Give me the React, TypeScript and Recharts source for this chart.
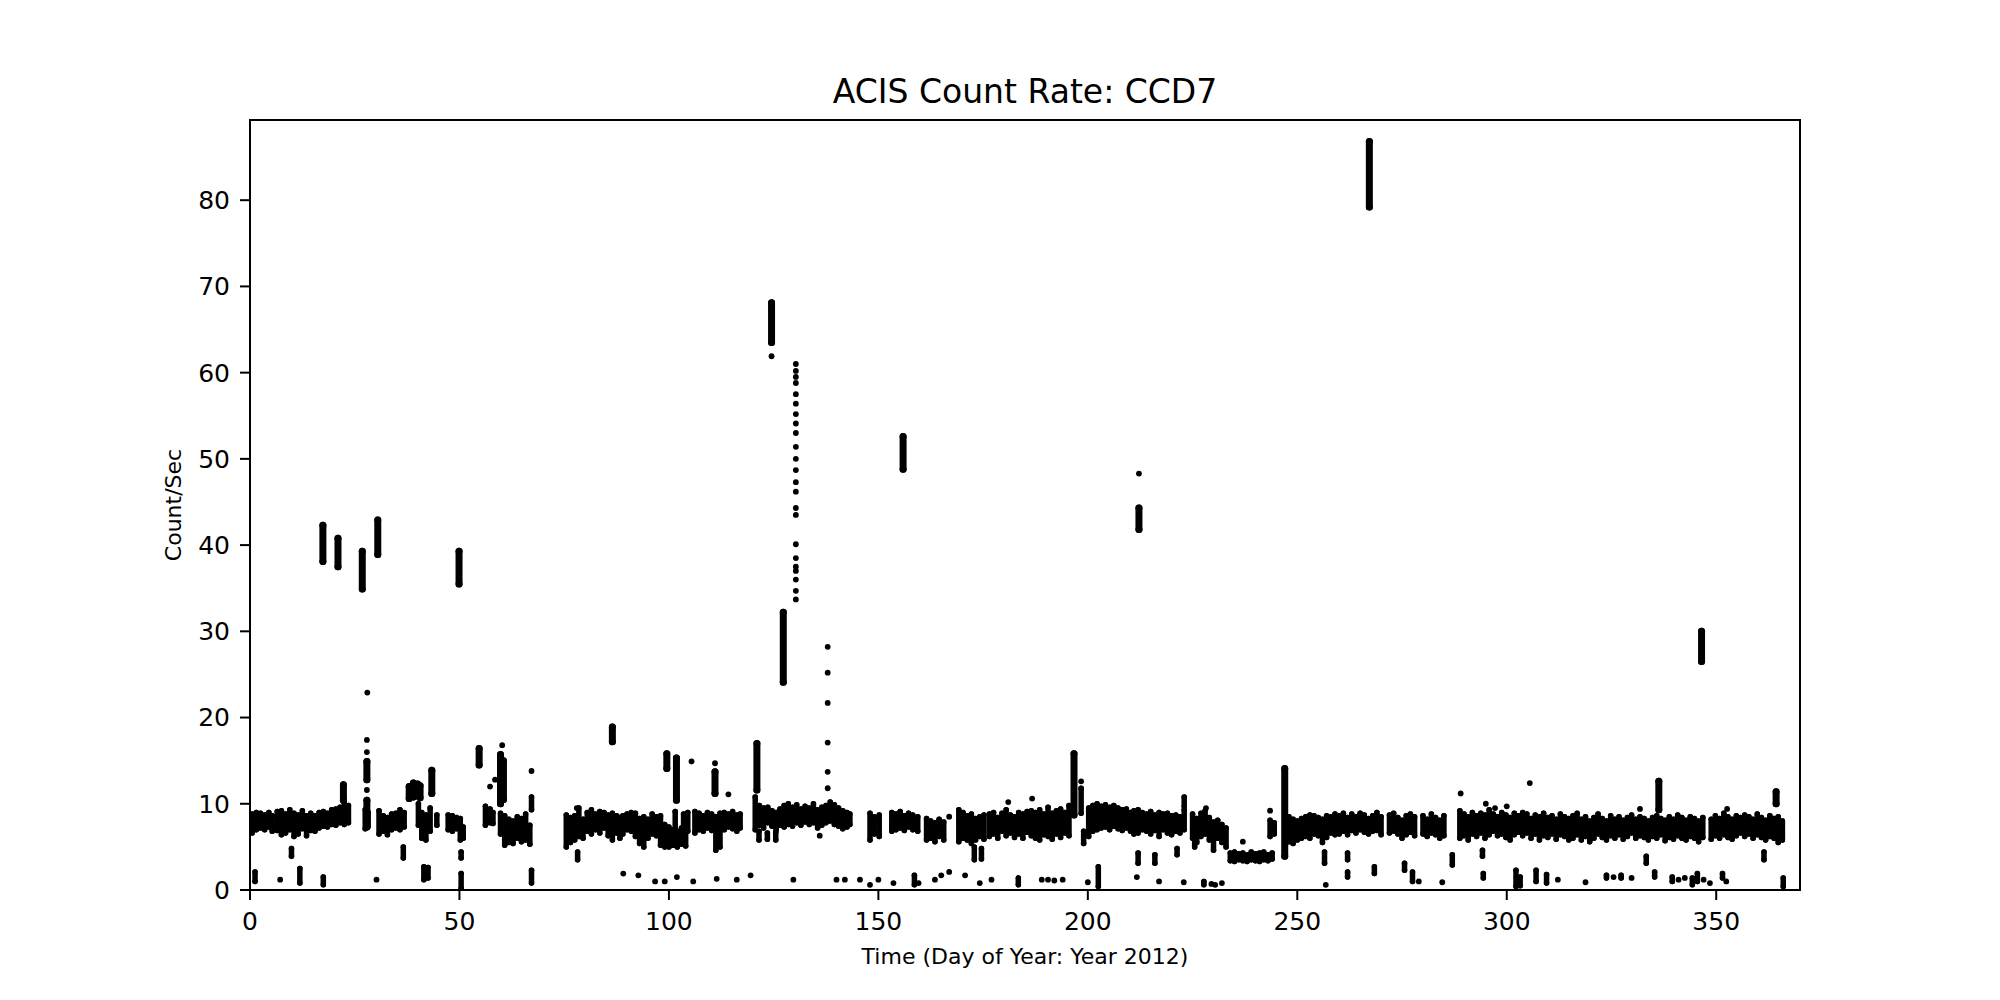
import React from 'react';
import {
  ComposedChart,
  Scatter,
  ErrorBar,
  XAxis,
  YAxis,
  ReferenceArea,
} from 'recharts';

// day of year, low, high (dense runs of points)
const bandRuns: [number, number, number][] = [
  [0.5, 6.6, 8.8], [1.5, 7.0, 9.0], [2.5, 7.2, 8.9], [3.5, 7.0, 8.7], [4.5, 7.3, 9.0], [5.3, 6.8, 8.6],
  [6.5, 6.9, 9.1], [7.5, 6.4, 9.2], [8.5, 6.6, 8.8], [9.5, 7.0, 9.3], [10.5, 6.2, 8.9], [11.5, 6.5, 8.7],
  [12.5, 7.1, 9.2], [13.5, 6.3, 8.6], [14.5, 6.9, 8.9], [15.5, 6.8, 8.6], [16.5, 7.2, 9.0], [17.5, 7.4, 9.1],
  [18.5, 7.3, 8.9], [19.5, 7.6, 9.3], [20.5, 7.5, 9.4], [21.5, 7.8, 9.6], [22.5, 7.6, 10.2], [23.5, 7.8, 9.8],
  [27.5, 7.1, 9.3], [28.2, 7.4, 9.0],
  [30.8, 6.5, 9.2], [31.8, 6.8, 8.6], [32.8, 6.4, 8.4], [33.8, 7.0, 8.8], [34.8, 7.2, 8.9], [35.8, 7.0, 9.3], [36.8, 7.3, 9.0],
  [40.2, 7.5, 10.0], [41.0, 6.0, 9.0], [42.0, 5.8, 8.7], [43.0, 6.8, 9.5], [44.6, 7.5, 8.7],
  [47.3, 7.0, 8.7], [48.3, 6.8, 8.6], [49.3, 7.1, 8.4], [50.2, 5.8, 8.3], [50.9, 6.0, 7.3],
  [56.2, 7.5, 9.7], [57.3, 7.8, 9.4], [58.0, 7.7, 9.0],
  [59.8, 6.5, 8.9], [60.8, 5.2, 8.6], [61.8, 5.5, 8.2], [62.8, 5.4, 8.0], [63.8, 6.0, 8.5], [64.8, 5.6, 8.3],
  [65.8, 5.8, 8.8], [66.8, 5.3, 7.5], [67.2, 9.3, 10.8],
  [75.5, 5.0, 8.7], [76.5, 5.5, 8.4], [77.5, 5.8, 8.6], [78.5, 6.2, 9.5], [79.5, 6.0, 8.2],
  [80.5, 6.8, 9.0], [81.5, 6.5, 9.3], [82.5, 7.0, 8.8], [83.5, 6.6, 9.1], [84.5, 7.2, 9.0], [85.5, 6.3, 8.7],
  [86.5, 5.8, 8.9], [87.5, 6.6, 8.6], [88.3, 6.0, 8.4],
  [89.0, 6.5, 8.6], [90.0, 7.0, 8.8], [91.0, 6.8, 9.0], [92.0, 6.2, 8.9], [93.0, 5.4, 8.3], [94.0, 5.0, 8.5],
  [95.0, 6.0, 8.2], [96.0, 6.5, 8.8], [97.0, 6.3, 8.5], [98.0, 5.2, 8.6], [99.0, 5.0, 7.6],
  [100.0, 5.0, 7.3], [101.0, 5.2, 7.0], [102.0, 5.0, 6.8], [103.0, 5.3, 7.2], [104.0, 5.1, 7.4],
  [101.5, 7.0, 9.1], [103.5, 7.2, 8.8], [104.5, 6.8, 9.0],
  [106.2, 6.6, 9.1], [107.2, 7.0, 8.9], [108.2, 6.8, 8.6], [109.2, 7.2, 9.0], [110.2, 6.9, 8.8], [111.2, 4.6, 8.5],
  [112.2, 5.0, 8.9], [113.2, 7.0, 9.0], [114.2, 7.3, 8.8], [115.2, 7.1, 9.1], [116.2, 6.8, 8.7], [117.0, 7.2, 8.8],
  [120.6, 7.0, 10.8], [121.6, 7.5, 9.8], [122.6, 7.2, 9.5], [123.6, 7.8, 9.6], [124.6, 7.4, 9.2], [125.6, 7.0, 9.0],
  [126.5, 7.5, 9.4], [121.5, 5.8, 6.8], [123.5, 5.9, 6.6], [125.5, 5.8, 6.7],
  [127.5, 7.3, 9.8], [128.5, 7.6, 10.0], [129.5, 7.4, 9.6], [130.5, 7.8, 9.9], [131.5, 7.5, 9.4], [132.5, 7.9, 9.7],
  [133.5, 7.6, 9.5], [134.5, 7.8, 10.0], [135.5, 7.2, 9.3], [136.5, 7.5, 9.6], [137.5, 7.8, 9.8], [138.5, 8.0, 10.2],
  [139.5, 7.6, 9.9], [140.5, 7.4, 9.5], [141.5, 7.1, 9.2], [142.5, 7.3, 9.0], [143.2, 7.6, 8.8],
  [148.0, 5.8, 8.9], [149.0, 6.5, 8.5], [150.2, 6.2, 8.7],
  [153.2, 6.8, 9.0], [154.2, 7.0, 8.8], [155.2, 7.2, 9.1], [156.2, 6.9, 8.6], [157.2, 7.3, 8.9], [158.2, 7.0, 8.7], [159.4, 6.8, 8.5],
  [161.5, 5.8, 8.3], [162.5, 6.0, 8.0], [163.5, 5.6, 7.8], [164.5, 6.2, 8.2], [165.6, 5.8, 7.9],
  [169.2, 5.6, 9.3], [170.2, 6.0, 9.0], [171.2, 5.8, 8.6], [172.2, 5.4, 8.8], [173.2, 5.8, 8.3], [174.2, 6.2, 8.5], [175.2, 5.9, 8.7],
  [176.5, 6.2, 8.8], [177.5, 6.5, 9.0], [178.5, 6.0, 8.4], [179.5, 6.8, 8.9], [180.5, 6.3, 9.3], [181.5, 6.6, 8.7],
  [182.5, 6.1, 8.5], [183.5, 6.5, 9.0], [184.5, 6.0, 8.8], [185.5, 6.7, 9.1], [186.5, 6.3, 9.2],
  [187.5, 6.0, 9.0], [188.5, 5.8, 9.3], [189.5, 6.4, 8.8], [190.5, 6.2, 9.6], [191.5, 5.9, 8.9], [192.5, 6.5, 9.2],
  [193.5, 6.1, 9.4], [194.5, 6.6, 9.0], [195.5, 6.3, 9.8], [198.4, 8.9, 11.8], [199.0, 5.4, 6.8],
  [200.2, 6.2, 9.5], [201.2, 6.8, 9.8], [202.2, 7.0, 10.0], [203.2, 7.2, 9.7], [204.2, 7.3, 9.9], [205.2, 7.0, 9.6],
  [206.2, 7.4, 9.8], [207.2, 7.1, 9.5], [208.2, 6.9, 9.3], [209.2, 7.2, 9.4], [210.2, 6.8, 9.0], [211.0, 6.5, 9.2],
  [212.0, 6.6, 9.3], [213.0, 7.0, 9.0], [214.0, 6.8, 8.8], [215.0, 6.5, 9.1], [216.0, 6.9, 8.7], [217.0, 6.2, 9.0],
  [218.0, 7.0, 8.8], [219.0, 6.6, 8.9], [220.0, 6.4, 8.6], [221.0, 6.8, 8.7], [222.0, 6.6, 8.5], [223.0, 7.0, 9.3],
  [223.0, 9.7, 10.8], [225.5, 5.0, 7.5],
  [225.0, 6.0, 8.8], [226.0, 5.5, 8.3], [227.0, 6.2, 8.9], [228.0, 6.5, 9.2], [229.0, 5.8, 8.4], [230.0, 4.6, 7.9],
  [231.0, 6.0, 8.1], [232.0, 5.5, 7.6], [233.0, 5.0, 7.2],
  [234.0, 3.4, 4.3], [235.0, 3.3, 4.4], [236.0, 3.5, 4.2], [237.0, 3.4, 4.3], [238.0, 3.3, 4.1], [239.0, 3.5, 4.4],
  [240.0, 3.4, 4.2], [241.0, 3.3, 4.3], [242.0, 3.5, 4.4], [243.0, 3.4, 4.1], [244.0, 3.6, 4.3],
  [243.5, 6.2, 8.1], [244.5, 6.5, 7.8],
  [248.0, 5.6, 8.5], [249.0, 5.4, 8.2], [250.0, 5.8, 8.0], [251.0, 6.0, 8.3], [252.0, 6.2, 8.5], [253.0, 6.0, 8.7],
  [254.0, 6.5, 8.6], [255.0, 6.3, 8.4], [256.0, 5.5, 8.2], [257.0, 6.1, 8.6], [258.0, 6.6, 8.5], [259.0, 6.4, 8.8],
  [260, 6.5, 8.6], [261, 6.8, 8.9], [262, 6.4, 8.4], [263, 6.9, 8.8], [264, 6.6, 8.5], [265, 7.0, 8.9],
  [266, 6.7, 8.7], [267, 6.5, 8.3], [268, 6.8, 8.6], [269, 6.9, 9.0], [270, 6.4, 8.5], [272, 6.6, 8.7],
  [273, 6.8, 8.9], [274, 6.5, 8.4], [275, 6.0, 8.1], [276, 6.4, 8.6], [277, 6.7, 8.8], [278, 6.3, 8.5],
  [280, 6.5, 8.6], [281, 6.2, 8.2], [282, 6.6, 8.8], [283, 6.4, 8.4], [284, 6.0, 8.1], [285, 6.3, 8.6],
  [288.8, 6.0, 9.2], [289.8, 6.3, 8.8], [290.8, 5.8, 8.5], [291.8, 6.5, 9.0], [292.8, 6.2, 8.6], [293.8, 6.6, 8.9],
  [294.8, 6.0, 8.7], [295.8, 6.4, 9.3], [296.8, 6.8, 8.8], [297.8, 6.3, 8.5], [298.8, 6.5, 9.0], [299.8, 6.1, 8.7],
  [300.8, 5.8, 8.4], [301.8, 6.4, 8.9], [302.8, 6.7, 8.6], [303.8, 6.3, 9.0], [304.8, 6.6, 8.8], [305.8, 6.0, 8.3],
  [306.8, 6.5, 8.7], [307.8, 5.8, 8.5], [308.8, 6.3, 8.9], [309.8, 6.1, 8.4], [310.8, 6.5, 8.6], [311.8, 5.9, 8.2],
  [312.8, 6.4, 8.8], [313.8, 6.2, 8.5], [314.8, 5.8, 8.3],
  [315.8, 6.0, 8.6], [316.8, 6.4, 8.9], [317.8, 5.8, 8.2], [318.8, 6.2, 8.5], [319.8, 5.6, 8.0], [320.8, 6.0, 8.4],
  [321.8, 6.5, 8.8], [322.8, 6.1, 8.3], [323.8, 5.8, 8.0], [324.8, 6.3, 8.6], [325.8, 6.0, 8.2], [326.8, 6.4, 8.5],
  [327.8, 5.9, 8.1], [328.8, 6.2, 8.4], [329.8, 6.6, 8.7], [330.8, 6.0, 8.2], [331.8, 6.3, 8.5], [332.8, 6.1, 8.3],
  [333.8, 5.8, 8.0], [334.8, 6.2, 8.4], [335.8, 6.0, 8.6], [336.8, 6.4, 8.3], [337.8, 5.7, 8.1], [338.8, 6.1, 8.5],
  [339.8, 5.9, 8.2], [340.8, 6.3, 8.7], [341.8, 6.0, 8.4], [342.8, 5.8, 8.1], [343.8, 6.2, 8.5], [344.8, 6.0, 8.3],
  [345.8, 5.6, 8.0], [346.8, 6.1, 8.4], [348.8, 5.9, 8.2], [349.8, 6.3, 8.6], [350.8, 6.0, 8.3], [351.8, 6.4, 8.9],
  [352.8, 6.1, 8.5], [353.8, 5.9, 8.2], [354.8, 6.3, 8.6], [355.8, 6.6, 8.4], [356.8, 6.2, 8.7], [357.8, 6.5, 8.5],
  [358.8, 6.0, 8.2], [359.8, 6.4, 8.8], [360.8, 6.1, 8.4], [361.8, 5.8, 8.1], [362.8, 6.2, 8.6], [363.8, 6.0, 8.3],
  [364.8, 5.5, 8.5], [365.8, 5.8, 8.0],
];

// flares and bursts above the quiet level
const flareRuns: [number, number, number][] = [
  [17.4, 38.1, 42.3], [21.0, 37.5, 40.8], [26.8, 34.9, 39.3], [30.5, 38.9, 42.9], [49.9, 35.5, 39.3],
  [22.3, 10.4, 12.2], [27.9, 12.8, 14.9], [27.9, 7.3, 10.4],
  [38.0, 10.6, 12.0], [39.0, 10.8, 12.4], [40.0, 10.9, 12.3], [40.6, 10.7, 12.1], [43.4, 11.2, 13.9],
  [54.7, 14.5, 16.4], [59.8, 10.0, 15.7], [60.5, 10.5, 15.0], [86.5, 17.2, 18.9],
  [99.5, 14.1, 15.8], [101.8, 10.4, 15.3], [111.0, 11.2, 13.7], [121.0, 11.6, 17.0],
  [124.5, 63.5, 68.1], [127.3, 24.1, 32.2], [155.9, 48.8, 52.6],
  [196.7, 8.7, 15.8], [212.2, 41.8, 44.3], [247.0, 3.9, 14.1], [267.2, 79.2, 86.8],
  [336.3, 9.3, 12.6], [346.5, 26.5, 30.0], [364.3, 10.0, 11.4],
];

// low-rate runs near zero
const lowRuns: [number, number, number][] = [
  [1.2, 1.0, 2.1], [9.9, 3.9, 4.8], [11.9, 0.8, 2.5], [17.5, 0.6, 1.5], [36.6, 3.7, 5.0],
  [41.5, 1.2, 2.7], [42.5, 1.4, 2.6], [50.4, 3.7, 4.4], [50.4, 0.2, 1.9], [67.2, 0.8, 2.3], [78.2, 3.5, 4.4],
  [158.6, 0.6, 1.7], [172.9, 3.5, 5.0], [174.6, 3.6, 4.8], [183.4, 0.6, 1.4], [202.5, 0.4, 2.7],
  [212.0, 3.1, 4.3], [216.0, 3.1, 4.1], [221.3, 4.1, 4.8], [227.7, 0.6, 1.0],
  [256.5, 3.1, 4.4], [262.0, 3.5, 4.3], [262.0, 1.5, 2.1], [268.4, 1.9, 2.7], [275.6, 2.3, 3.1],
  [277.5, 1.0, 2.1], [287.0, 2.9, 4.1], [294.4, 1.4, 1.9], [294.2, 3.9, 4.6], [302.2, 0.4, 2.3],
  [303.2, 0.5, 1.5], [307.0, 1.0, 2.3], [309.5, 0.8, 1.8], [323.8, 1.4, 1.7], [327.3, 1.4, 1.7],
  [333.3, 3.1, 3.9], [335.3, 1.5, 2.1], [339.5, 1.0, 1.5], [344.3, 0.6, 1.4], [345.5, 1.0, 1.9],
  [351.5, 1.4, 1.9], [361.4, 3.5, 4.4], [366.0, 0.4, 1.4],
];

// isolated points: day, count/sec
const loneDots: [number, number][] = [
  [7.2, 1.2], [28.0, 22.9], [27.9, 17.4], [27.9, 16.0], [27.9, 11.6], [30.2, 1.2],
  [57.3, 12.0], [58.5, 12.8], [60.2, 16.8], [67.2, 13.8],
  [78.0, 9.5], [89.1, 1.9], [92.7, 1.7], [96.7, 1.0], [99.0, 1.0], [101.9, 1.5], [105.4, 14.9], [105.8, 1.0],
  [111.0, 14.7], [111.4, 1.3], [114.2, 11.1], [116.2, 1.2], [119.5, 1.7], [124.5, 61.9], [129.7, 1.2],
  [130.3, 61.0], [130.3, 60.2], [130.3, 59.5], [130.3, 58.8], [130.3, 57.5], [130.3, 56.4], [130.3, 55.2],
  [130.3, 54.1], [130.3, 53.0], [130.3, 51.4], [130.3, 50.0], [130.3, 48.7], [130.3, 47.3], [130.3, 46.2],
  [130.3, 44.3], [130.3, 43.5], [130.3, 40.1], [130.3, 38.5], [130.3, 37.5], [130.3, 37.0], [130.3, 36.0],
  [130.3, 34.7], [130.3, 33.7], [136.0, 6.3],
  [137.9, 28.2], [137.9, 25.2], [137.9, 21.7], [137.9, 17.1], [137.9, 13.7], [137.9, 11.8],
  [140.0, 1.2], [142.0, 1.2], [145.6, 1.2], [148.0, 0.6], [150.0, 1.2], [153.6, 0.8], [159.6, 0.8],
  [163.5, 1.2], [165.0, 1.7], [166.9, 2.1], [166.9, 8.5], [170.7, 1.7], [174.2, 0.8], [177.0, 1.2],
  [181.0, 10.2], [186.7, 10.6], [189.0, 1.2], [190.5, 1.2], [192.0, 1.1], [194.0, 1.2],
  [198.4, 12.6], [200.0, 0.9], [211.7, 1.5], [212.2, 48.3], [217.0, 1.0], [222.9, 0.9], [228.2, 9.5],
  [229.5, 0.7], [230.4, 0.6], [232.0, 0.8], [237.0, 5.6], [243.5, 9.2], [256.8, 0.6], [279.0, 1.0],
  [284.6, 0.9], [289.0, 11.2], [295.0, 10.0], [297.2, 9.5], [300.0, 9.7], [305.5, 12.4], [312.2, 1.2],
  [318.8, 0.9], [325.5, 1.5], [329.8, 1.4], [331.8, 9.4], [341.0, 1.2], [342.5, 1.4], [347.0, 1.2],
  [348.5, 0.8], [352.4, 1.0], [352.6, 9.4],
];

const dayTicks = [0, 50, 100, 150, 200, 250, 300, 350];
const rateTicks = [0, 10, 20, 30, 40, 50, 60, 70, 80];

// each run is drawn as a thick vertical error bar around its midpoint
const toRuns = (runs: [number, number, number][]) =>
  runs.map(([day, lo, hi]) => {
    const mid = (lo + hi) / 2;
    return { day, val: mid, spread: [mid - lo, hi - mid] };
  });
const quietData = toRuns([...bandRuns, ...lowRuns]);
const flareData = toRuns(flareRuns);
const dotData = loneDots.map(([day, val]) => ({ day, val }));

const font = '"DejaVu Sans", sans-serif';
const tickStyle = { fill: '#000', fontSize: 25, fontFamily: font };

export default function App() {
  return (
    <div style={{ position: 'absolute', left: 0, top: 0, width: 2000, height: 1000, background: '#fff' }}>
      <div
        style={{
          position: 'absolute', left: 250, width: 1550, top: 72, lineHeight: '40px',
          textAlign: 'center', fontFamily: font, fontSize: 33, color: '#000',
        }}
      >
        ACIS Count Rate: CCD7
      </div>
      <div
        style={{
          position: 'absolute', left: 173, top: 505, transform: 'translate(-50%, -50%) rotate(-90deg)',
          whiteSpace: 'nowrap', fontFamily: font, fontSize: 22, color: '#000',
        }}
      >
        Count/Sec
      </div>
      <div
        style={{
          position: 'absolute', left: 250, width: 1550, top: 943, lineHeight: '28px',
          textAlign: 'center', fontFamily: font, fontSize: 22, color: '#000',
        }}
      >
        Time (Day of Year: Year 2012)
      </div>
      <ComposedChart
        width={2000}
        height={1000}
        margin={{ top: 120, right: 200, bottom: 50, left: 170 }}
      >
        <XAxis
          dataKey="day"
          type="number"
          domain={[0, 370]}
          allowDataOverflow
          ticks={dayTicks}
          height={60}
          tick={tickStyle}
          tickSize={10}
          tickMargin={12}
          axisLine={{ stroke: '#000', strokeWidth: 2 }}
          tickLine={{ stroke: '#000', strokeWidth: 2 }}
        />
        <YAxis
          type="number"
          domain={[0, 89.3]}
          allowDataOverflow
          ticks={rateTicks}
          width={80}
          tick={tickStyle}
          tickSize={10}
          tickMargin={10}
          axisLine={{ stroke: '#000', strokeWidth: 2 }}
          tickLine={{ stroke: '#000', strokeWidth: 2 }}
        />
        <ReferenceArea x1={0} x2={370} y1={0} y2={89.3} fill="none" stroke="#000" strokeWidth={2} />
        <Scatter data={quietData} dataKey="val" fill="#000" isAnimationActive={false} shape={() => <g />}>
          <ErrorBar
            dataKey="spread"
            direction="y"
            width={0}
            stroke="#000"
            strokeWidth={5.5}
            strokeLinecap="round"
            isAnimationActive={false}
          />
        </Scatter>
        <Scatter data={flareData} dataKey="val" fill="#000" isAnimationActive={false} shape={() => <g />}>
          <ErrorBar
            dataKey="spread"
            direction="y"
            width={0}
            stroke="#000"
            strokeWidth={7}
            strokeLinecap="round"
            isAnimationActive={false}
          />
        </Scatter>
        <Scatter
          data={dotData}
          dataKey="val"
          fill="#000"
          isAnimationActive={false}
          shape={(p: any) => <circle cx={p.cx} cy={p.cy} r={2.9} fill="#000" />}
        />
      </ComposedChart>
    </div>
  );
}
